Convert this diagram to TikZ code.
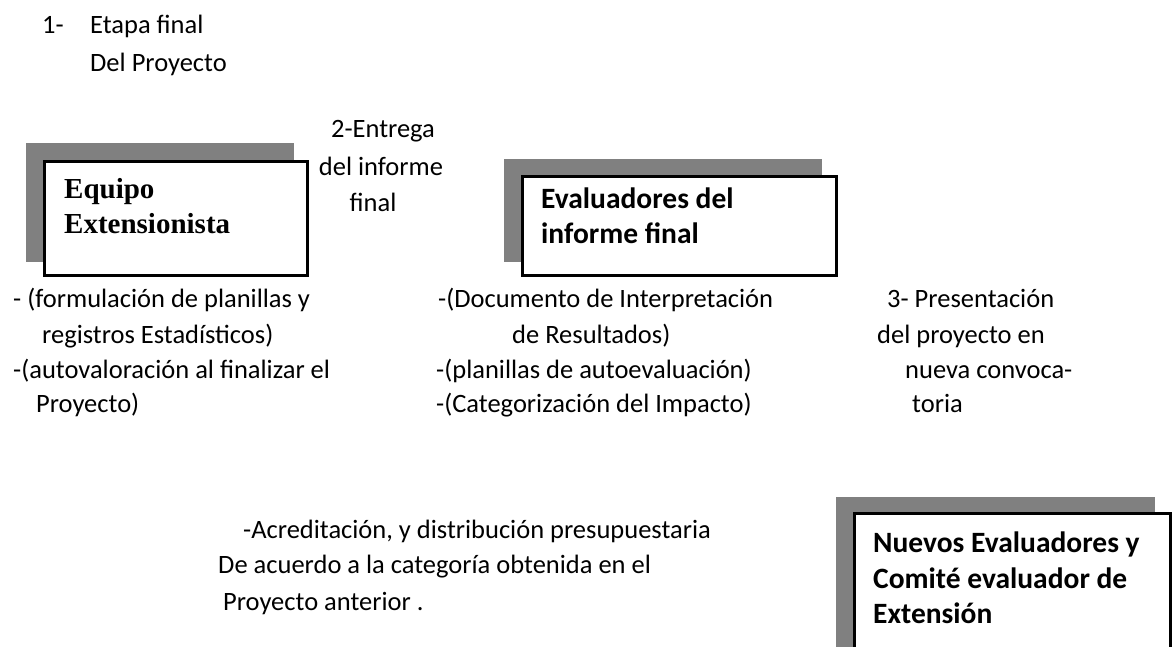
\documentclass[tikz,border=0pt]{standalone}
\usepackage{fontspec}
\setmainfont{Carlito}
\newfontfamily\tnr{Liberation Serif}
\begin{document}
\begin{tikzpicture}[x=1pt,y=-1pt,
  txt/.style={anchor=base west,inner sep=0pt,font=\fontsize{26.5}{30}\selectfont},
  ctxt/.style={anchor=base,inner sep=0pt,font=\fontsize{26.5}{30}\selectfont},
  btxt/.style={anchor=base west,inner sep=0pt,font=\fontsize{29.5}{34}\selectfont\bfseries},
  ttxt/.style={anchor=base west,inner sep=0pt,font=\fontsize{29}{32}\selectfont\tnr\bfseries},
  shadowbox/.style={fill=black!50,draw=none},
  mainbox/.style={draw=black,line width=3pt,fill=white}]
\useasboundingbox (0,0) rectangle (1172,646);
\clip (0,0) rectangle (1172,646);
% top label
\node[txt] (n1) at (42,33) {1-};
\node[txt] (n1a) at (90,33) {Etapa final};
\node[txt] (n1b) at (90,71) {Del Proyecto};
% box 1
\fill[shadowbox] (26,143) rectangle (294,262);
\draw[mainbox] (44.5,161.5) rectangle (307,275.5);
\node[ttxt] (eq1) at (64,198) {Equipo};
\node[ttxt] (eq2) at (64,233) {Extensionista};
% step 2 label
\node[ctxt] (s2a) at (383,137) {2-Entrega};
\node[ctxt] (s2b) at (381,175) {del informe};
\node[ctxt] (s2c) at (373,211) {final};
% box 2
\fill[shadowbox] (504,159) rectangle (822,262);
\draw[mainbox] (522.5,176.5) rectangle (836.5,275.5);
\node[btxt] (ev1) at (541,208) {Evaluadores del};
\node[btxt] (ev2) at (541,243) {informe final};
% left column
\node[txt] (l1) at (13,307) {- (formulación de planillas y};
\node[txt] (l2) at (42,343) {registros Estadísticos)};
\node[txt] (l3) at (13,378) {-(autovaloración al finalizar el};
\node[txt] (l4) at (36,412) {Proyecto)};
% middle column
\node[txt] (m1) at (438,307) {-(Documento de Interpretación};
\node[txt] (m2) at (512,343) {de Resultados)};
\node[txt] (m3) at (436,378) {-(planillas de autoevaluación)};
\node[txt] (m4) at (436,412) {-(Categorización del Impacto)};
% right column
\node[txt] (r1) at (887,307) {3- Presentación};
\node[txt] (r2) at (877,343) {del proyecto en};
\node[txt] (r3) at (905,378) {nueva convoca-};
\node[txt] (r4) at (912,412) {toria};
% bottom text
\node[txt] (b1) at (243,538) {-Acreditación, y distribución presupuestaria};
\node[txt] (b2) at (218,573) {De acuerdo a la categoría obtenida en el};
\node[txt] (b3) at (223,610) {Proyecto anterior .};
% box 3
\fill[shadowbox] (836,497) rectangle (1155,660);
\draw[mainbox] (854.5,513.5) rectangle (1170,670);
\node[btxt] (nv1) at (873,552) {Nuevos Evaluadores y};
\node[btxt] (nv2) at (873,588) {Comité evaluador de};
\node[btxt] (nv3) at (873,623) {Extensión};
\end{tikzpicture}
\end{document}
